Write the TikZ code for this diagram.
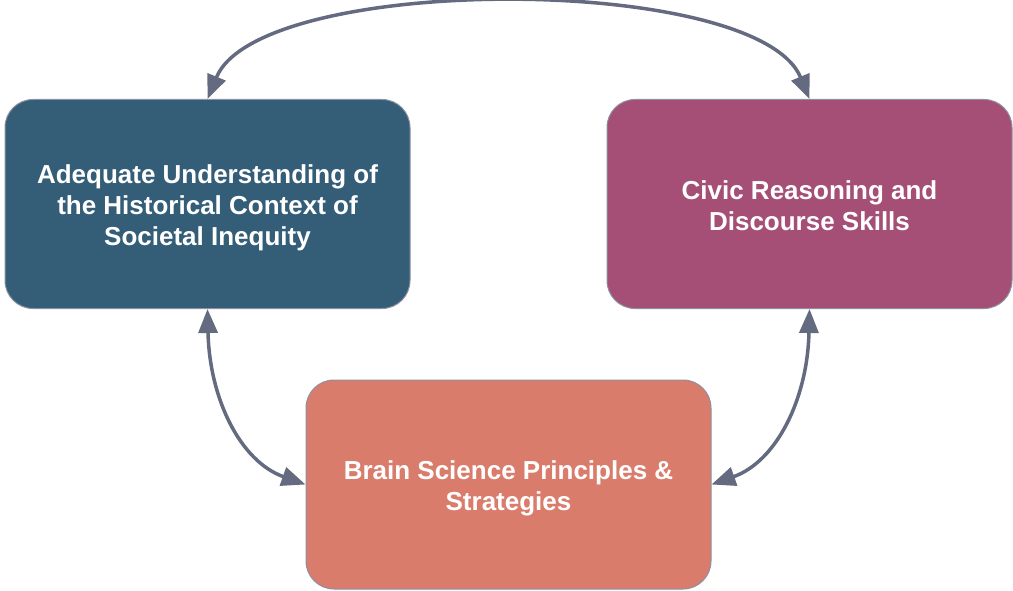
\documentclass[tikz,border=0pt]{standalone}
\usepackage{fontspec}
\setmainfont{Liberation Sans}
\usetikzlibrary{arrows.meta}
\definecolor{boxA}{HTML}{345D77}
\definecolor{boxB}{HTML}{A54F76}
\definecolor{boxC}{HTML}{DA7C6C}
\definecolor{arrowc}{HTML}{646A80}
\definecolor{edgec}{HTML}{8C90A0}
\newcommand{\topstrut}{\rule{0pt}{26pt}}
\tikzset{
  card/.style={draw=edgec, line width=1pt, rounded corners=28pt, text=white,
    align=center, inner sep=0pt, minimum width=405pt, minimum height=209pt,
    font=\bfseries\fontsize{26}{31}\selectfont},
  link/.style={draw=arrowc, line width=3.5pt,
    {Triangle[length=24pt,width=19pt]}-{Triangle[length=24pt,width=19pt]}}
}
\begin{document}
\begin{tikzpicture}[x=1pt,y=-1pt]
\useasboundingbox (0,0) rectangle (1013,591);
\node[card, fill=boxA] (L) at (207.5,204) {\topstrut Adequate Understanding of\\the Historical Context of\\Societal Inequity};
\node[card, fill=boxB] (R) at (809.5,204) {\rule{0pt}{23pt}Civic Reasoning and\\Discourse Skills};
\node[card, fill=boxC] (B) at (508.5,484.5) {\topstrut Brain Science Principles \&\\Strategies};
\draw[link] (L.north) .. controls +(52,-126) and +(-52,-126) .. (R.north);
\draw[link] (L.south) .. controls +(2,90) and +(-65,-23) .. (B.west);
\draw[link] (R.south) .. controls +(-2,90) and +(65,-23) .. (B.east);
\end{tikzpicture}
\end{document}
